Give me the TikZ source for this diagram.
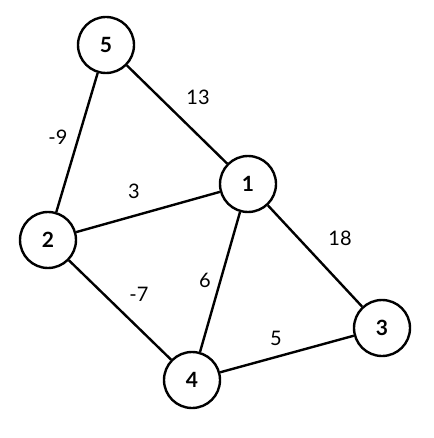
\documentclass[tikz,border=0pt]{standalone}
\usepackage{fontspec}
\setmainfont{Lato}
\usepackage{tikz}
\usetikzlibrary{positioning}

\begin{document}
\begin{tikzpicture}[x=1pt,y=-1pt,
  vertex/.style={draw,circle,line width=2.4pt,minimum size=56pt,inner sep=0pt,font=\fontsize{21}{21}\selectfont\bfseries},
  weight/.style={font=\fontsize{20}{20}\selectfont},
  edge/.style={line width=2.4pt}]
\useasboundingbox (0,0) rectangle (433,438);
\node[vertex] (v5) at (106,45) {5};
\node[vertex] (v1) at (248,184) {1};
\node[vertex] (v2) at (48,240) {2};
\node[vertex] (v4) at (192,380) {4};
\node[vertex] (v3) at (382,328) {3};
\draw[edge] (v5) -- (v1);
\draw[edge] (v5) -- (v2);
\draw[edge] (v2) -- (v1);
\draw[edge] (v2) -- (v4);
\draw[edge] (v1) -- (v4);
\draw[edge] (v1) -- (v3);
\draw[edge] (v4) -- (v3);
\node[weight] (w51) at (198,97) {13};
\node[weight] (w52) at (58,137) {-9};
\node[weight] (w21) at (134,191) {3};
\node[weight] (w13) at (340,238) {18};
\node[weight] (w24) at (139,294) {-7};
\node[weight] (w14) at (205,280) {6};
\node[weight] (w43) at (276,338) {5};
\end{tikzpicture}
\end{document}
